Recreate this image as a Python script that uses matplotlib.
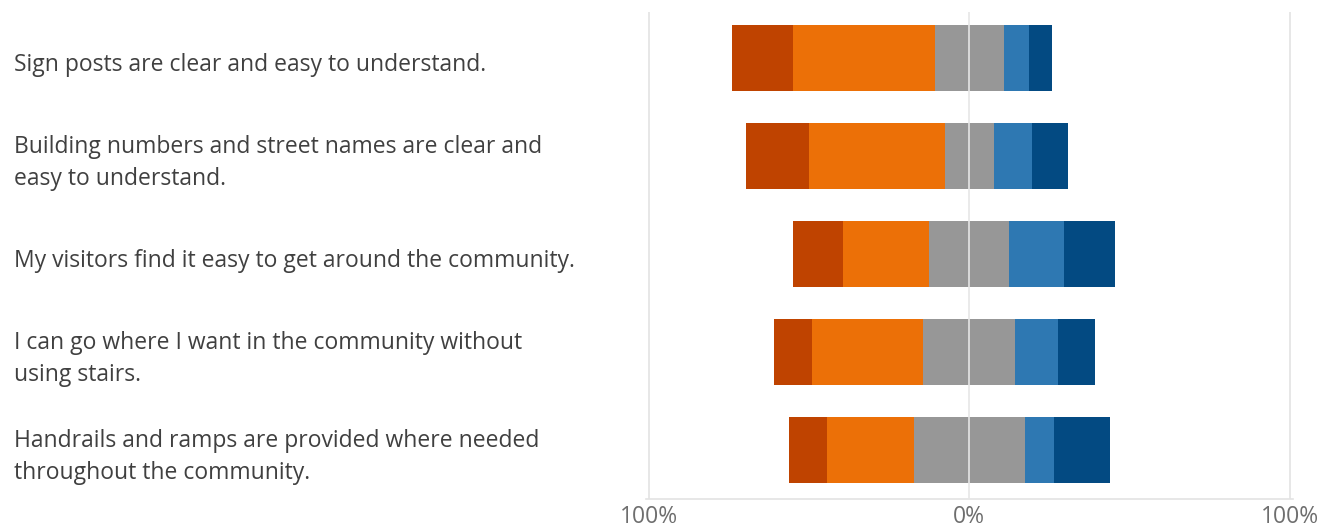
import matplotlib
matplotlib.use("Agg")
import matplotlib.pyplot as plt
import numpy as np

categories = [
    "Sign posts are clear and easy to understand.",
    "Building numbers and street names are clear and\neasy to understand.",
    "My visitors find it easy to get around the community.",
    "I can go where I want in the community without\nusing stairs.",
    "Handrails and ramps are provided where needed\nthroughout the community.",
]
strongly_disagree = [19.0, 19.7, 15.6, 11.9, 11.7]
disagree = [44.2, 42.3, 26.9, 34.8, 27.2]
neutral = [21.4, 15.4, 25.0, 28.7, 34.5]
agree = [8.0, 11.8, 17.1, 13.3, 9.3]
strongly_agree = [7.1, 11.2, 15.8, 11.7, 17.5]
tick_values = [-100, 0, 100]
tick_labels = ["100%", "0%", "100%"]

colors = ["#BF4300", "#EC7007", "#979797", "#2E78B2", "#034A82"]

plt.rcParams['font.family'] = ['Open Sans', 'DejaVu Sans']

fig = plt.figure(figsize=(13.22, 5.31), dpi=100)
ax = fig.add_axes([645.5 / 1322, (531 - 499) / 531, 647.5 / 1322, (499 - 12) / 531])

sd = np.array(strongly_disagree)
d = np.array(disagree)
n = np.array(neutral)
a = np.array(agree)
sa = np.array(strongly_agree)
y = np.arange(len(categories))

start = -(sd + d + n / 2)
segments = [sd, d, n, a, sa]
left = start.copy()
for seg, col in zip(segments, colors):
    ax.barh(y, seg, left=left, height=0.675, color=col, edgecolor='none', zorder=2)
    left = left + seg

for xv in [-100, 100]:
    ax.axvline(xv, color="#E3E3E3", lw=1.2, zorder=1)
ax.axvline(0, color="#E6E6E6", lw=1.2, zorder=3)

ax.set_xlim(-101, 101)
ax.set_ylim(4.5, -0.47)
ax.set_xticks(tick_values)
ax.set_xticklabels(tick_labels, fontsize=16.5, color="#6E6E6E")
ax.set_yticks([])
ax.tick_params(axis='x', length=0, pad=4.5)
for s in ["top", "left", "right"]:
    ax.spines[s].set_visible(False)
ax.spines["bottom"].set_color("#E3E3E3")
ax.spines["bottom"].set_linewidth(1.2)

for yi, cat in zip(y, categories):
    ypix = ax.transData.transform((0, yi))[1] - 7
    ax.text(14 / 1322, ypix / 531, cat,
            transform=fig.transFigure, ha='left', va='center',
            fontsize=16.5, color="#404040", linespacing=1.45)

fig.savefig("out.png", dpi=100)
